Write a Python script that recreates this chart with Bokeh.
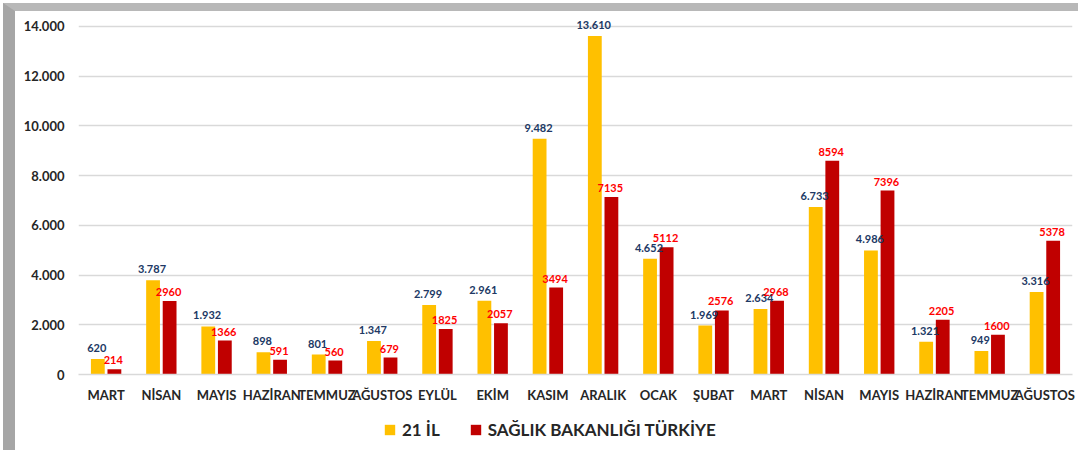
from bokeh.plotting import figure
from bokeh.models import ColumnDataSource, Range1d, FixedTicker, Legend, LegendItem
from bokeh.layouts import column
from bokeh.core.properties import value
from bokeh.transform import dodge
from bokeh.embed import file_html
from bokeh.resources import INLINE

months = ["MART", "NİSAN", "MAYIS", "HAZİRAN", "TEMMUZ", "AĞUSTOS", "EYLÜL", "EKİM", "KASIM",
          "ARALIK", "OCAK", "ŞUBAT", "MART", "NİSAN", "MAYIS", "HAZİRAN", "TEMMUZ", "AĞUSTOS"]
il21 = [620, 3787, 1932, 898, 801, 1347, 2799, 2961, 9482, 13610, 4652, 1969, 2634, 6733, 4986, 1321, 949, 3316]
saglik = [214, 2960, 1366, 591, 560, 679, 1825, 2057, 3494, 7135, 5112, 2576, 2968, 8594, 7396, 2205, 1600, 5378]
y_ticks = [0, 2000, 4000, 6000, 8000, 10000, 12000, 14000]
series_names = ["21 İL", "SAĞLIK BAKANLIĞI TÜRKİYE"]

FONT = "Lato"
YEL = "#FFC000"
RED = "#C00000"

def tr_fmt(v):
    return f"{v:,}".replace(",", ".")

idx = list(range(len(months)))
src = ColumnDataSource(dict(
    x=idx,
    il=il21,
    sg=saglik,
    il_lab=[tr_fmt(v) for v in il21],
    sg_lab=[str(v) for v in saglik],
))

p = figure(width=1063, height=394, output_backend="svg", toolbar_location=None,
           x_range=Range1d(-0.5, len(months) - 0.5), y_range=Range1d(0, 14475),
           min_border_left=63, min_border_right=6, min_border_top=3, min_border_bottom=25)
p.outline_line_color = None

r1 = p.vbar(x=dodge("x", -0.15), top="il", width=0.25, source=src, fill_color=YEL, line_color=None)
r2 = p.vbar(x=dodge("x", 0.15), top="sg", width=0.25, source=src, fill_color=RED, line_color=None)

p.text(x=dodge("x", -0.17), y="il", text="il_lab", source=src, text_align="center",
       text_baseline="bottom", y_offset=-7, text_font=value(FONT), text_font_style="bold",
       text_font_size="11px", text_color="#203864")
p.text(x=dodge("x", 0.13), y="sg", text="sg_lab", source=src, text_align="center",
       text_baseline="bottom", y_offset=-5, text_font=value(FONT), text_font_style="bold",
       text_font_size="11px", text_color="#FF0000")

p.xgrid.grid_line_color = None
p.ygrid.grid_line_color = "#d9d9d9"
p.ygrid.grid_line_width = 1.5
p.ygrid.ticker = FixedTicker(ticks=y_ticks)

p.yaxis.ticker = FixedTicker(ticks=y_ticks)
p.yaxis.major_label_overrides = {t: tr_fmt(t) for t in y_ticks}
p.yaxis.axis_line_color = None
p.yaxis.major_tick_line_color = None
p.yaxis.minor_tick_line_color = None
p.yaxis.major_label_text_font = FONT
p.yaxis.major_label_text_font_style = "bold"
p.yaxis.major_label_text_font_size = "13px"
p.yaxis.major_label_text_color = "#262626"
p.yaxis.major_label_standoff = 8

p.xaxis.ticker = FixedTicker(ticks=idx)
p.xaxis.major_label_overrides = {i: m for i, m in enumerate(months)}
p.xaxis.axis_line_color = "#d9d9d9"
p.xaxis.axis_line_width = 1.5
p.xaxis.major_tick_line_color = None
p.xaxis.minor_tick_line_color = None
p.xaxis.major_label_text_font = FONT
p.xaxis.major_label_text_font_style = "bold"
p.xaxis.major_label_text_font_size = "13px"
p.xaxis.major_label_text_color = "#262626"
p.xaxis.major_label_standoff = 6

# legend strip
lg = figure(width=1063, height=45, output_backend="svg", toolbar_location=None,
            x_range=Range1d(0, 1), y_range=Range1d(0, 1),
            min_border_left=0, min_border_right=0, min_border_top=0, min_border_bottom=0)
lg.axis.visible = False
lg.grid.visible = False
lg.outline_line_color = None
nan = float("nan")
dummy = ColumnDataSource(dict(l=[nan], r=[nan], b=[nan], t=[nan]))
l1 = lg.quad(left="l", right="r", bottom="b", top="t", source=dummy, fill_color=YEL, line_color=None)
l2 = lg.quad(left="l", right="r", bottom="b", top="t", source=dummy, fill_color=RED, line_color=None)
legend = Legend(items=[LegendItem(label=series_names[0], renderers=[l1], index=0),
                       LegendItem(label=series_names[1], renderers=[l2], index=0)],
                orientation="horizontal", location=(305, 10),
                label_text_font=FONT, label_text_font_style="bold", label_text_font_size="17px",
                label_text_color="#262626", glyph_width=13, glyph_height=13,
                spacing=29, border_line_color=None, background_fill_alpha=0,
                margin=0, padding=4, label_standoff=6)
lg.add_layout(legend, "center")

layout = column(p, lg, spacing=0)
layout.styles = {"margin-left": "3px", "margin-top": "3px",
                 "border-left": "12px solid #a6a6a6", "border-top": "8px solid #b8b8b8"}

open("out.html", "w").write(file_html(layout, INLINE))
